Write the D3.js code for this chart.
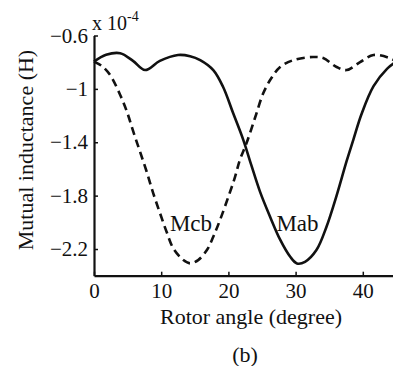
<!DOCTYPE html>
<html>
<head>
<meta charset="utf-8">
<script src="https://cdn.jsdelivr.net/npm/d3@7"></script>
<style>
  body { margin: 0; background: #fff; }
  svg text { font-family: "Liberation Serif", "Times New Roman", serif; fill: #111; }
</style>
</head>
<body>
<div id="chart"></div>
<script>
// rotor angle (degree) and mutual inductance (x 1e-4 H)
const mabAngle = [0, 1.8, 3.9, 5.8, 7.6, 9.8, 12.5, 14.3, 15.8, 17.75, 19.2, 20.7, 22.2, 23.4, 24.7, 26.2, 27.7, 29.2, 30.2, 31.4, 33.1, 34.6, 36.1, 37.6, 38.6, 39.8, 41.6, 43.6, 45];
const mabValue = [-0.796, -0.745, -0.733, -0.79, -0.859, -0.79, -0.746, -0.755, -0.784, -0.859, -0.984, -1.181, -1.38, -1.57, -1.77, -1.958, -2.13, -2.258, -2.308, -2.296, -2.208, -2.033, -1.80, -1.54, -1.38, -1.19, -0.98, -0.85, -0.796];

const mcbAngle = [0, 1.2, 2.4, 3.9, 4.9, 5.85, 6.85, 7.84, 8.82, 9.82, 10.8, 11.8, 13.3, 14.3, 15.5, 16.8, 17.75, 18.75, 20.0, 21.0, 21.7, 22.7, 24.0, 25.2, 26.4, 27.7, 29.7, 32.6, 34.1, 36.1, 37.6, 39.6, 41.6, 44.0, 45];
const mcbValue = [-0.796, -0.83, -0.896, -1.046, -1.171, -1.321, -1.471, -1.621, -1.783, -1.931, -2.071, -2.195, -2.283, -2.308, -2.283, -2.208, -2.108, -1.983, -1.808, -1.658, -1.533, -1.406, -1.211, -1.031, -0.919, -0.836, -0.784, -0.761, -0.769, -0.836, -0.859, -0.799, -0.746, -0.769, -0.796];

const xTicks = [0, 10, 20, 30, 40];
const yTicks = [-2.2, -1.8, -1.4, -1, -0.6];

const width = 393, height = 366;
const plot = { left: 94, right: 396.4, top: 35.5, bottom: 275.7 };

const svg = d3.select('#chart').append('svg')
  .attr('width', width)
  .attr('height', height);

const x = d3.scaleLinear().domain([0, 45]).range([plot.left, plot.right]);
const y = d3.scaleLinear().domain([-2.4, -0.6]).range([plot.bottom, plot.top]);

// axes, matlab style ticks pointing inward
const xAxis = svg.append('g')
  .attr('transform', `translate(0,${plot.bottom})`)
  .call(d3.axisBottom(x).tickValues(xTicks).tickSizeInner(-4).tickSizeOuter(0).tickPadding(7));

const yAxis = svg.append('g')
  .attr('transform', `translate(${plot.left},0)`)
  .call(d3.axisLeft(y).tickValues(yTicks)
    .tickFormat(d => String(d).replace('-', '\u2212'))
    .tickSizeInner(-4).tickSizeOuter(0).tickPadding(6));

[xAxis, yAxis].forEach(g => {
  g.select('.domain').attr('stroke', '#111').attr('stroke-width', 2.2);
  g.selectAll('.tick line').attr('stroke', '#111').attr('stroke-width', 1.5);
  g.selectAll('.tick text').style('font-size', '21px').attr('fill', '#111');
});

const line = d3.line()
  .x(d => x(d[0]))
  .y(d => y(d[1]))
  .curve(d3.curveCatmullRom.alpha(0.5));

svg.append('path')
  .datum(d3.zip(mabAngle, mabValue))
  .attr('fill', 'none')
  .attr('stroke', '#111')
  .attr('stroke-width', 2.6)
  .attr('d', line);

svg.append('path')
  .datum(d3.zip(mcbAngle, mcbValue))
  .attr('fill', 'none')
  .attr('stroke', '#111')
  .attr('stroke-width', 2.6)
  .attr('stroke-dasharray', '8,5')
  .attr('d', line);

// curve names
svg.append('text')
  .attr('x', 191).attr('y', 231)
  .attr('text-anchor', 'middle')
  .style('font-size', '23px')
  .text('Mcb');

svg.append('text')
  .attr('x', 297.5).attr('y', 231)
  .attr('text-anchor', 'middle')
  .style('font-size', '23px')
  .text('Mab');

// exponent label
const expo = svg.append('text')
  .attr('x', 92).attr('y', 30)
  .style('font-size', '20px');
expo.append('tspan').text('x 10');
expo.append('tspan').attr('dy', -9).style('font-size', '14px').text('-4');

svg.append('text')
  .attr('x', 251).attr('y', 324)
  .attr('text-anchor', 'middle')
  .style('font-size', '22px')
  .text('Rotor angle (degree)');

svg.append('text')
  .attr('x', 245).attr('y', 362)
  .attr('text-anchor', 'middle')
  .style('font-size', '22px')
  .text('(b)');

svg.append('text')
  .attr('transform', `translate(33,${150}) rotate(-90)`)
  .attr('text-anchor', 'middle')
  .style('font-size', '22px')
  .text('Mutual inductance (H)');
</script>
</body>
</html>
